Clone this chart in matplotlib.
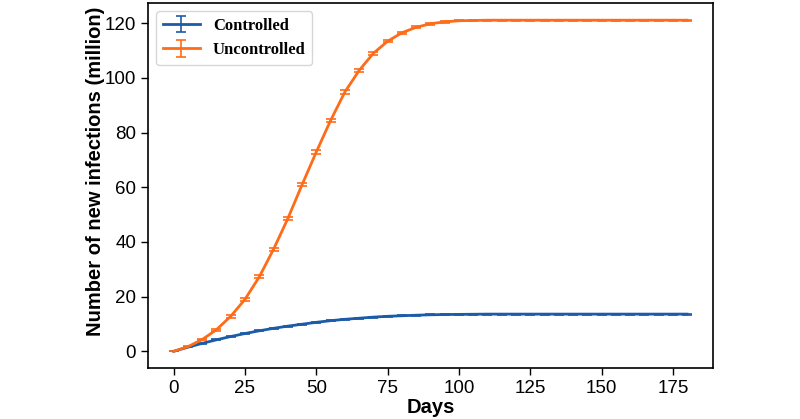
import numpy as np
import matplotlib.pyplot as plt

days = list(range(0, 181, 5))

controlled = [0.0, 1.5, 2.9, 4.2, 5.4, 6.5, 7.5, 8.4, 9.2, 9.9, 10.6, 11.2, 11.7,
              12.1, 12.5, 12.8, 13.0, 13.2, 13.35, 13.45, 13.5, 13.55, 13.6, 13.6,
              13.6, 13.6, 13.6, 13.6, 13.6, 13.6, 13.6, 13.6, 13.6, 13.6, 13.6,
              13.6, 13.6]
controlled_err = [0.0, 0.1, 0.15, 0.15, 0.2, 0.2, 0.2, 0.2, 0.2, 0.2, 0.2, 0.2, 0.2,
                  0.2, 0.2, 0.2, 0.2, 0.2, 0.2, 0.2, 0.2, 0.2, 0.2, 0.2, 0.2, 0.2,
                  0.2, 0.2, 0.2, 0.2, 0.2, 0.2, 0.2, 0.2, 0.2, 0.2, 0.2]

uncontrolled = [0.0, 1.7, 4.3, 7.9, 12.8, 19.0, 27.2, 37.3, 48.5, 60.9, 72.9, 84.4,
                94.8, 102.7, 109.0, 113.4, 116.5, 118.5, 119.8, 120.5, 120.9, 121.0,
                121.1, 121.1, 121.1, 121.1, 121.1, 121.1, 121.1, 121.1, 121.1, 121.1,
                121.1, 121.1, 121.1, 121.1, 121.1]
uncontrolled_err = [0.0, 0.2, 0.3, 0.4, 0.5, 0.5, 0.55, 0.6, 0.6, 0.6, 0.6, 0.6,
                    0.6, 0.55, 0.5, 0.45, 0.4, 0.35, 0.3, 0.3, 0.25, 0.25, 0.25,
                    0.25, 0.25, 0.25, 0.25, 0.25, 0.25, 0.25, 0.25, 0.25, 0.25,
                    0.25, 0.25, 0.25, 0.25]


def main():
    plt.rcParams['font.family'] = ['Liberation Sans', 'DejaVu Sans']

    fig = plt.figure(figsize=(8, 4.19), dpi=100)
    ax = fig.add_axes([0.185, 0.122, 0.706, 0.871])

    ax.errorbar(days, controlled, yerr=controlled_err, color='#1c5ba8', lw=2,
                capsize=3.5, elinewidth=1.2, capthick=1.2, label='Controlled')
    ax.errorbar(days, uncontrolled, yerr=uncontrolled_err, color='#ff6b17', lw=2,
                capsize=3.5, elinewidth=1.2, capthick=1.2, label='Uncontrolled')

    ax.set_xticks(range(0, 176, 25))
    ax.set_yticks(range(0, 121, 20))
    ax.tick_params(labelsize=13.5, length=5, width=1)
    for s in ax.spines.values():
        s.set_linewidth(1.2)

    ax.set_xlabel('Days', fontsize=14.5, fontweight='bold', labelpad=1)
    ax.set_ylabel('Number of new infections (million)', fontsize=14.5,
                  fontweight='bold')
    ax.yaxis.set_label_coords(-0.077, 0.538)

    ax.legend(loc='upper left', prop={'family': 'Liberation Serif',
                                      'weight': 'bold', 'size': 12},
              borderpad=0.4, handlelength=2.2)

    fig.savefig('out.png', dpi=100)


if __name__ == "__main__":
    main()
